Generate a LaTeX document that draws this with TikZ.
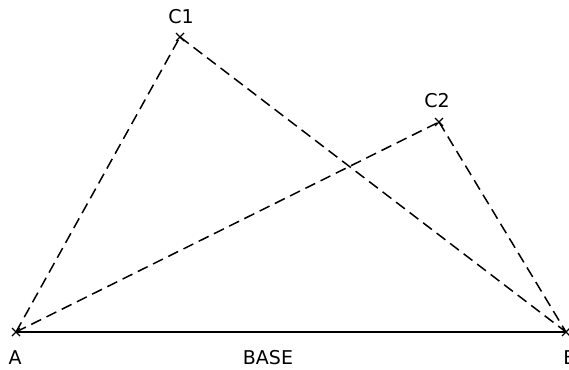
\documentclass[tikz,border=0pt]{standalone}
\usepackage{fontspec}
\setmainfont{DejaVu Sans}
\usepackage{tikz}
\usetikzlibrary{positioning, calc}

\tikzset{
    side/.style={dash pattern=on 11pt off 6pt, line width=1.5pt},
    baseline/.style={line width=1.8pt},
    lbl/.style={font=\fontsize{19}{19}\selectfont, inner sep=0pt},
    vmark/.style={line width=1.3pt}
}

\begin{document}
\begin{tikzpicture}[x=1pt, y=-1pt]
        % Define dimensions
        \def\s{4} % half size of a vertex mark

        \useasboundingbox (0,0) rectangle (569,369);

        % Corner points
        \coordinate (A) at (16,332);
        \coordinate (B) at (566,332);
        \coordinate (C1) at (180,37);
        \coordinate (C2) at (439,122);

        % Labels
        \node[lbl] (lA) at (15,358) {A};
        \node[lbl] (lB) at (570,358) {B};
        \node[lbl] (lbase) at (268,358) {BASE};
        \node[lbl] (lC1) at (181,17) {C1};
        \node[lbl] (lC2) at (437,101) {C2};

        % Vertex marks
        \foreach \p in {A,B,C1,C2} {
            \draw[vmark] ($(\p)+(-\s,-\s)$) -- ($(\p)+(\s,\s)$);
            \draw[vmark] ($(\p)+(-\s,\s)$) -- ($(\p)+(\s,-\s)$);
        }

        % Base line
        \draw[baseline] (A) -- (B);

        % Dashed sides
        \foreach \c in {C1,C2} {
            \draw[side] (A) -- (\c);
            \draw[side] (\c) -- (B);
        }
    \end{tikzpicture}
\end{document}
